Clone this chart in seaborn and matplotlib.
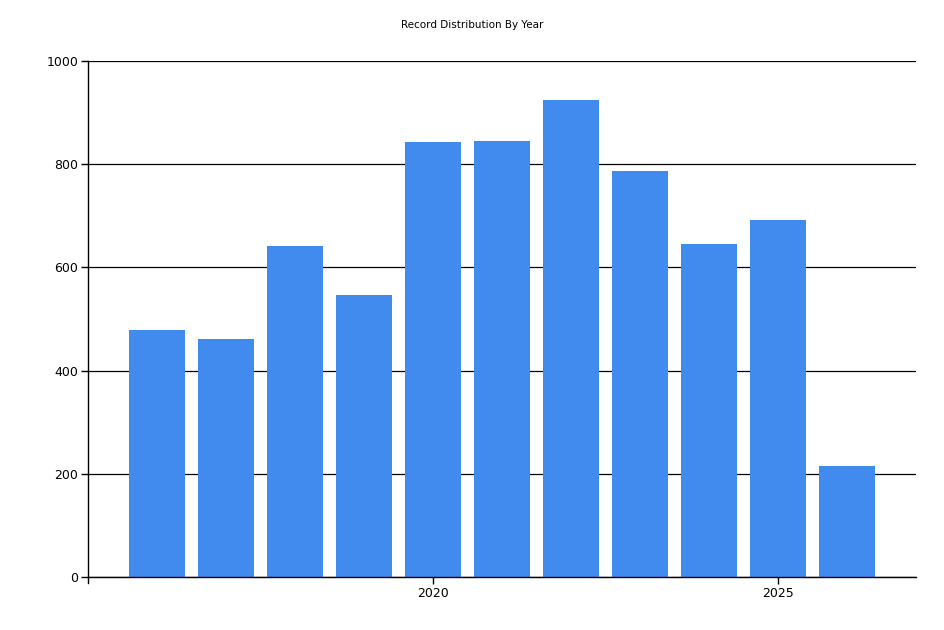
import matplotlib
matplotlib.use("Agg")
import matplotlib.pyplot as plt
import seaborn as sns
import pandas as pd

# records per year
years = [2016, 2017, 2018, 2019, 2020, 2021, 2022, 2023, 2024, 2025, 2026]
counts = [478, 461, 641, 546, 843, 845, 924, 787, 645, 692, 215]

df = pd.DataFrame({"Year": years, "Records": counts})

sns.set_style("white")
plt.rcParams['font.family'] = ['DejaVu Sans']

fig = plt.figure(figsize=(9.45, 6.3), dpi=100)
ax = fig.add_axes([88 / 945, 1 - 577 / 630, (916 - 88) / 945, (577 - 61) / 630])

sns.barplot(data=df, x="Year", y="Records", native_scale=True, color="#418BEF",
            saturation=1, width=0.8, linewidth=0, ax=ax, zorder=3)

ax.set_xlim(2015, 2027)
ax.set_ylim(0, 1000)
ax.set_xticks([2020, 2025])
ax.set_yticks([0, 200, 400, 600, 800, 1000])
ax.set_xlabel("")
ax.set_ylabel("")

# black horizontal gridlines behind the bars
ax.yaxis.grid(True, color="black", linewidth=0.9)
ax.set_axisbelow(True)

for side in ["top", "right"]:
    ax.spines[side].set_visible(False)
ax.spines["left"].set_color("black")
ax.spines["bottom"].set_color("black")
ax.spines["left"].set_linewidth(1)
ax.spines["bottom"].set_linewidth(1)
ax.spines["left"].set_bounds(-12, 1000)
ax.spines["bottom"].set_zorder(4)

ax.tick_params(axis="both", direction="out", length=5, width=1, color="black",
               labelsize=9, labelcolor="black", pad=2, left=True, bottom=True)

fig.text(472 / 945, 1 - 25 / 630, "Record Distribution By Year", ha="center",
         va="center", fontsize=7.5, color="black")

fig.savefig("out.png", dpi=100)
